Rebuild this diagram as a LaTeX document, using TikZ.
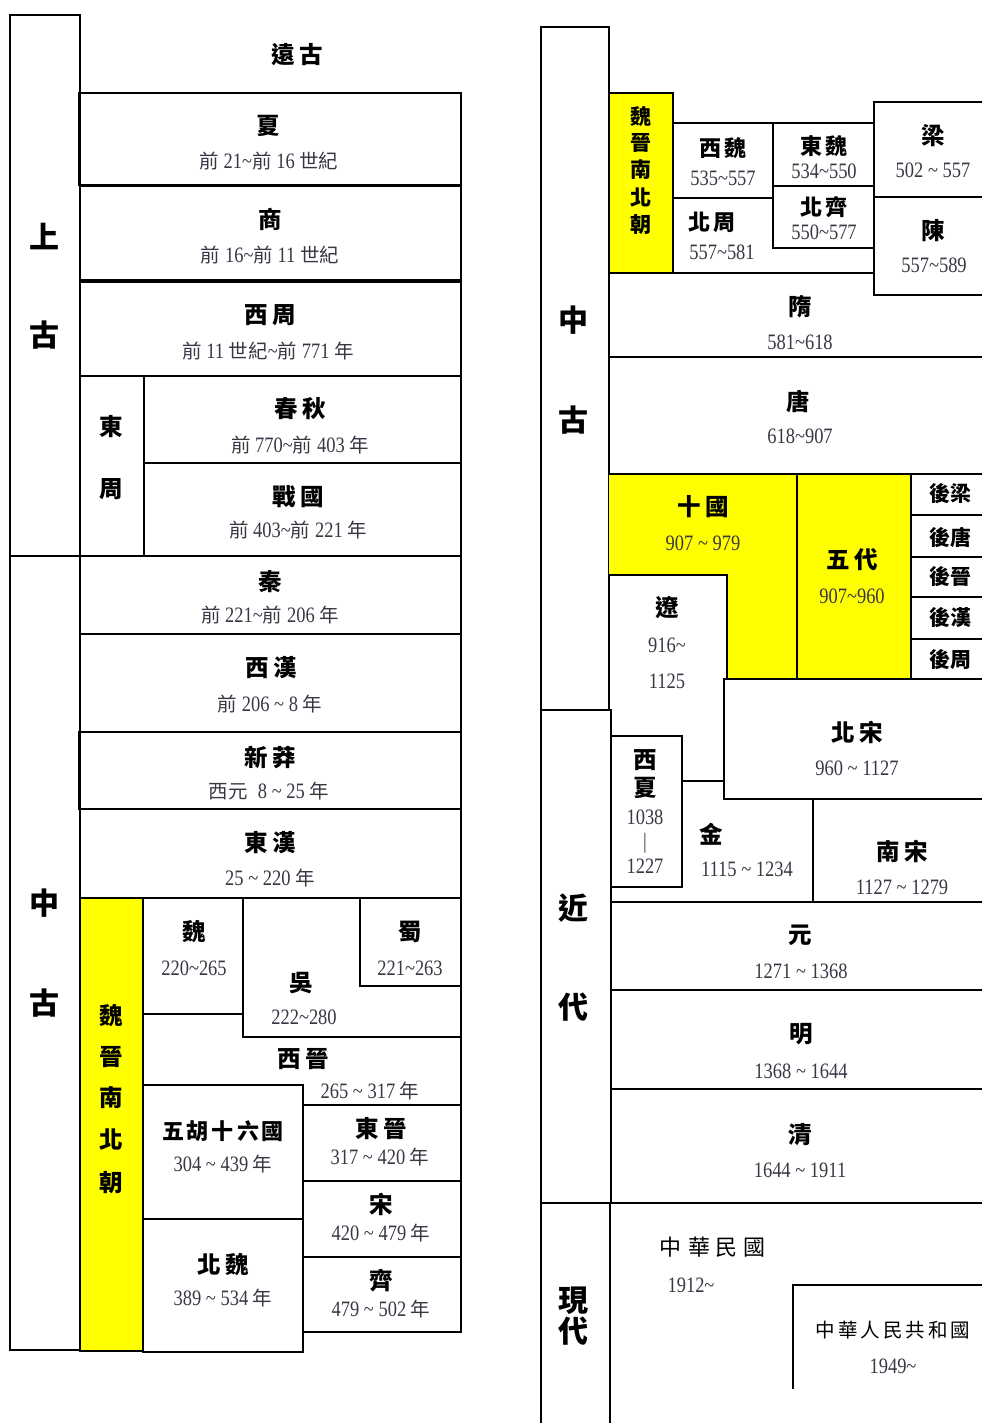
\documentclass[tikz,border=0pt]{standalone}
\usepackage{fontspec}
\newfontfamily\cjk{Noto Sans CJK TC}
\newfontfamily\datef[FakeStretch=0.84]{Liberation Serif}
\newcommand\zh[1]{{\cjk\fontsize{19.5}{19.5}\selectfont #1}}
\newcommand\tld{\textasciitilde}
\newcommand\ls{\kern5pt}
\definecolor{yel}{RGB}{255,255,0}
\definecolor{datecol}{RGB}{58,54,68}
\tikzset{
  ln/.style={draw=black, line width=1.4pt},
  era/.style={font=\cjk\bfseries\fontsize{30}{30}\selectfont, inner sep=0pt},
  ttl/.style={font=\cjk\bfseries\fontsize{23.5}{23.5}\selectfont, inner sep=0pt},
  ttlm/.style={font=\cjk\bfseries\fontsize{22}{22}\selectfont, inner sep=0pt},
  ttls/.style={font=\cjk\bfseries\fontsize{21}{21}\selectfont, inner sep=0pt},
  modern/.style={font=\cjk\fontsize{22}{22}\selectfont, inner sep=0pt},
  dat/.style={font=\datef\fontsize{22}{22}\selectfont, text=datecol, inner sep=0pt},
}
\begin{document}
\begin{tikzpicture}[x=1pt,y=-1pt]
\useasboundingbox (0,0) rectangle (982,1423);
% ---------------- left column ----------------
\draw[ln] (10,15) rectangle (80,556);
\draw[ln] (10,556) rectangle (80,1350);
\draw[ln] (79,93) rectangle (461,185);
\draw[ln] (80,186) rectangle (461,280);
\draw[ln] (80,282) rectangle (461,376);
\draw[ln] (80,376) rectangle (144,556);
\draw[ln] (144,376) rectangle (461,463);
\draw[ln] (144,463) rectangle (461,556);
\draw[ln] (80,556) rectangle (461,634);
\draw[ln] (80,634) rectangle (461,732);
\draw[ln] (79,732) rectangle (461,809);
\draw[ln] (80,809) rectangle (461,898);
\draw[ln, fill=yel] (80,898) rectangle (143,1351);
\draw[ln] (143,898) rectangle (243,1014);
\draw[ln] (243,898) -- (243,1037) -- (461,1037);
\draw[ln] (360,898) rectangle (461,986);
\draw[ln] (461,898) -- (461,1105);
\draw[ln] (143,1085) rectangle (303,1219);
\draw[ln] (143,1219) rectangle (303,1352);
\draw[ln] (303,1105) rectangle (461,1181);
\draw[ln] (303,1181) rectangle (461,1257);
\draw[ln] (303,1257) rectangle (461,1332);

\node[era] (shang1) at (44,237) {上};
\node[era] (shang2) at (44,335) {古};
\node[era] (zhong1) at (44,903) {中};
\node[era] (zhong2) at (44,1003) {古};

\node[ttl] (yuangu) at (297,55) {遠\ls 古};
\node[ttl] (xia) at (268,126) {夏};
\node[dat] (xiad) at (269,161) {\zh{前} 21\tld\zh{前} 16 \zh{世紀}};
\node[ttl] (shangd) at (270,219) {商};
\node[dat] (shangdd) at (270,255) {\zh{前} 16\tld\zh{前} 11 \zh{世紀}};
\node[ttl] (xizhou) at (270,315) {西\ls 周};
\node[dat] (xizhoud) at (268,351) {\zh{前} 11 \zh{世紀}\tld\zh{前} 771 \zh{年}};
\node[ttl] (dong) at (111,427) {東};
\node[ttl] (zhou) at (111,489) {周};
\node[ttl] (chunqiu) at (300,409) {春\ls 秋};
\node[dat] (chunqiud) at (300,445) {\zh{前} 770\tld\zh{前} 403 \zh{年}};
\node[ttl] (zhanguo) at (298,497) {戰\ls 國};
\node[dat] (zhanguod) at (298,530) {\zh{前} 403\tld\zh{前} 221 \zh{年}};
\node[ttl] (qin) at (270,582) {秦};
\node[dat] (qind) at (270,615) {\zh{前} 221\tld\zh{前} 206 \zh{年}};
\node[ttl] (xihan) at (271,668) {西\ls 漢};
\node[dat] (xihand) at (270,704) {\zh{前} 206 \tld{} 8 \zh{年}};
\node[ttl] (xinmang) at (270,757) {新\ls 莽};
\node[dat] (xinmangd) at (269,791) {\zh{西元}\kern10pt 8 \tld{} 25 \zh{年}};
\node[ttl] (donghan) at (270,843) {東\ls 漢};
\node[dat] (donghand) at (270,878) {25 \tld{} 220 \zh{年}};
\node[ttl] (wei) at (194,932) {魏};
\node[dat] (weid) at (194,968) {220\tld265};
\node[ttl] (shu) at (410,932) {蜀};
\node[dat] (shud) at (410,968) {221\tld263};
\node[ttl] (wu) at (301,983) {吳};
\node[dat] (wud) at (304,1017) {222\tld280};
\node[ttl] (xijin) at (303,1059) {西\ls 晉};
\node[dat] (xijind) at (370,1091) {265 \tld{} 317 \zh{年}};
\node[ttlm] (wuhu) at (223,1131) {五\kern3pt 胡\kern3pt 十\kern3pt 六\kern3pt 國};
\node[dat] (wuhud) at (223,1164) {304 \tld{} 439 \zh{年}};
\node[ttl] (dongjin) at (381,1129) {東\ls 晉};
\node[dat] (dongjind) at (380,1157) {317 \tld{} 420 \zh{年}};
\node[ttl] (song) at (381,1204) {宋};
\node[dat] (songd) at (381,1233) {420 \tld{} 479 \zh{年}};
\node[ttl] (qi) at (381,1281) {齊};
\node[dat] (qid) at (381,1309) {479 \tld{} 502 \zh{年}};
\node[ttl] (beiwei) at (223,1265) {北\ls 魏};
\node[dat] (beiweid) at (223,1298) {389 \tld{} 534 \zh{年}};
\node[ttl] (lwj1) at (111,1016) {魏};
\node[ttl] (lwj2) at (111,1057) {晉};
\node[ttl] (lwj3) at (111,1098) {南};
\node[ttl] (lwj4) at (111,1140) {北};
\node[ttl] (lwj5) at (111,1183) {朝};

% ---------------- right column ----------------
\draw[ln] (541,27) rectangle (609,710);
\draw[ln] (541,710) rectangle (611,1203);
\draw[ln] (541,1423) -- (541,1203) -- (982,1203);
\draw[ln] (610,1203) -- (610,1423);
\draw[ln, fill=yel] (609,93) rectangle (673,273);
\draw[ln] (673,123) rectangle (773,198);
\draw[ln] (773,123) rectangle (874,186);
\draw[ln] (773,186) rectangle (874,248);
\draw[ln] (609,273) -- (874,273);
\draw[ln] (982,102) -- (874,102) -- (874,295) -- (982,295);
\draw[ln] (874,197) -- (982,197);
\draw[ln] (609,357) -- (982,357);
\fill[yel] (609,474) -- (911,474) -- (911,679) -- (727,679) -- (727,575) -- (609,575) -- cycle;
\draw[ln] (609,474) -- (982,474);
\draw[ln] (609,575) -- (727,575) -- (727,679);
\draw[ln] (797,474) -- (797,679);
\draw[ln] (911,474) -- (911,679);
\foreach \yy in {515,557,597,639} \draw[ln] (911,\yy) -- (982,\yy);
\draw[ln] (982,679) -- (724,679) -- (724,799) -- (982,799);
\draw[ln] (611,736) rectangle (682,887);
\draw[ln] (682,781) -- (724,781);
\draw[ln] (813,799) -- (813,902);
\draw[ln] (611,902) -- (982,902);
\draw[ln] (611,990) -- (982,990);
\draw[ln] (611,1089) -- (982,1089);
\draw[ln] (793,1389) -- (793,1285) -- (982,1285);

\node[era] (rz1) at (573,320) {中};
\node[era] (rz2) at (573,420) {古};
\node[era] (jin1) at (573,908) {近};
\node[era] (jin2) at (573,1007) {代};
\node[era] (xd1) at (573,1301) {現};
\node[era] (xd2) at (573,1331) {代};

\node[ttls] (rwj1) at (641,117) {魏};
\node[ttls] (rwj2) at (641,143) {晉};
\node[ttls] (rwj3) at (641,170) {南};
\node[ttls] (rwj4) at (641,198) {北};
\node[ttls] (rwj5) at (641,225) {朝};
\node[ttlm] (xiwei) at (723,148) {西\kern3pt 魏};
\node[dat] (xiweid) at (723,178) {535\tld557};
\node[ttlm] (dongwei) at (824,146) {東\kern3pt 魏};
\node[dat] (dongweid) at (824,171) {534\tld550};
\node[ttl] (liang) at (933,136) {梁};
\node[dat] (liangd) at (933,170) {502 \tld{} 557};
\node[ttlm] (beizhou) at (712,222) {北\kern3pt 周};
\node[dat] (beizhoud) at (722,252) {557\tld581};
\node[ttlm] (beiqi) at (824,207) {北\kern3pt 齊};
\node[dat] (beiqid) at (824,232) {550\tld577};
\node[ttl] (chen) at (933,231) {陳};
\node[dat] (chend) at (934,265) {557\tld589};
\node[ttl] (sui) at (800,307) {隋};
\node[dat] (suid) at (800,342) {581\tld618};
\node[ttl] (tang) at (798,402) {唐};
\node[dat] (tangd) at (800,436) {618\tld907};
\node[ttl] (shiguo) at (703,507) {十\ls 國};
\node[dat] (shiguod) at (703,543) {907 \tld{} 979};
\node[ttl] (wudai) at (852,560) {五\ls 代};
\node[dat] (wudaid) at (852,596) {907\tld960};
\node[ttls] (hl) at (950,494) {後梁};
\node[ttls] (ht) at (950,537) {後唐};
\node[ttls] (hj) at (950,577) {後晉};
\node[ttls] (hh) at (950,618) {後漢};
\node[ttls] (hz) at (950,660) {後周};
\node[ttl] (liao) at (667,608) {遼};
\node[dat] (liaod1) at (667,645) {916\tld};
\node[dat] (liaod2) at (667,681) {1125};
\node[ttl] (beisong) at (857,732) {北\ls 宋};
\node[dat] (beisongd) at (857,768) {960 \tld{} 1127};
\node[ttl] (xx1) at (645,760) {西};
\node[ttl] (xx2) at (645,788) {夏};
\node[dat] (xxd1) at (645,817) {1038};
\node[dat] (xxd2) at (645,843) {|};
\node[dat] (xxd3) at (645,866) {1227};
\node[ttl] (jinn) at (711,834) {金};
\node[dat] (jinnd) at (747,869) {1115 \tld{} 1234};
\node[ttl] (nansong) at (902,851) {南\ls 宋};
\node[dat] (nansongd) at (902,887) {1127 \tld{} 1279};
\node[ttl] (yuan) at (800,935) {元};
\node[dat] (yuand) at (801,971) {1271 \tld{} 1368};
\node[ttl] (ming) at (801,1034) {明};
\node[dat] (mingd) at (801,1071) {1368 \tld{} 1644};
\node[ttl] (qing) at (800,1135) {清};
\node[dat] (qingd) at (800,1170) {1644 \tld{} 1911};
\node[modern] (roc) at (712,1247) {中\kern8pt 華\kern5pt 民\kern5pt 國};
\node[dat] (rocd) at (691,1285) {1912\tld};
\node[modern, font=\cjk\fontsize{19.5}{19.5}\selectfont] (prc) at (893,1330) {中\kern3pt 華\kern3pt 人\kern3pt 民\kern3pt 共\kern3pt 和\kern3pt 國};
\node[dat] (prcd) at (893,1366) {1949\tld};
\end{tikzpicture}
\end{document}
